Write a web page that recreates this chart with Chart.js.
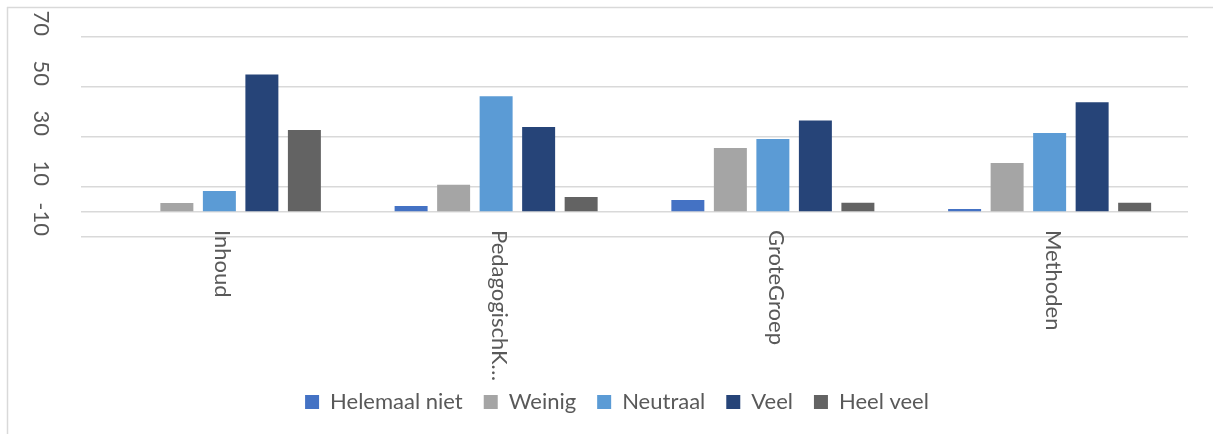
<!DOCTYPE html>
<html>
<head>
<meta charset="utf-8">
<script src="https://cdn.jsdelivr.net/npm/chart.js@4/dist/chart.umd.min.js"></script>
<style>
  html, body { margin: 0; padding: 0; background: #ffffff; }
  #wrap { width: 1213px; height: 434px; position: relative; }
</style>
</head>
<body>
<div id="wrap"><canvas id="c"></canvas></div>
<script>
// ---- Data ----
const categories = ['Inhoud', 'PedagogischK…', 'GroteGroep', 'Methoden'];
const seriesNames = ['Helemaal niet', 'Weinig', 'Neutraal', 'Veel', 'Heel veel'];
const helemaalNiet = [0, 2.4, 4.8, 1.2];
const weinig = [3.6, 10.9, 25.6, 19.6];
const neutraal = [8.4, 46.3, 29.2, 31.6];
const veel = [55, 34, 36.6, 43.9];
const heelVeel = [32.8, 6, 3.7, 3.7];
const yTickValues = [-10, 10, 30, 50, 70];
const yTickLabels = ['-10', '10', '30', '50', '70'];
const gridValues = [-10, 0, 10, 30, 50, 70];

const colors = ['#4472C4', '#A5A5A5', '#5B9BD5', '#264478', '#636363'];
const seriesData = [helemaalNiet, weinig, neutraal, veel, heelVeel];
const textColor = '#595959';
const gridColor = '#d9d9d9';
const FONT = 'Lato, "Open Sans", sans-serif';

const labelPlugin = {
  id: 'rotatedLabels',
  beforeDraw(chart) {
    const ctx = chart.ctx;
    ctx.save();
    ctx.fillStyle = '#ffffff';
    ctx.fillRect(0, 0, chart.width, chart.height);
    ctx.strokeStyle = gridColor;
    ctx.lineWidth = 1.5;
    ctx.beginPath();
    ctx.moveTo(7, 7.5); ctx.lineTo(chart.width, 7.5);
    ctx.moveTo(7.5, 7); ctx.lineTo(7.5, chart.height);
    ctx.stroke();
    ctx.restore();
  },
  afterDraw(chart) {
    const ctx = chart.ctx;
    const ys = chart.scales.y;
    const xs = chart.scales.x;
    ctx.save();
    ctx.fillStyle = textColor;
    ctx.font = '22px ' + FONT;
    // y tick labels, rotated clockwise, ending just above their gridline
    yTickValues.forEach((v, i) => {
      const py = ys.getPixelForValue(v);
      ctx.save();
      ctx.translate(41, py - 1);
      ctx.rotate(Math.PI / 2);
      ctx.textAlign = 'right';
      ctx.textBaseline = 'middle';
      ctx.fillText(yTickLabels[i], 0, 0);
      ctx.restore();
    });
    // category labels, rotated clockwise, starting below the axis
    categories.forEach((c, i) => {
      const px = xs.getPixelForValue(i);
      ctx.save();
      ctx.translate(px + 3, 230);
      ctx.rotate(Math.PI / 2);
      ctx.textAlign = 'left';
      ctx.textBaseline = 'middle';
      ctx.fillText(c, 0, 0);
      ctx.restore();
    });
    ctx.restore();
  }
};

new Chart(document.getElementById('c'), {
  type: 'bar',
  data: {
    labels: categories,
    datasets: seriesNames.map((name, i) => ({
      label: name,
      data: seriesData[i],
      backgroundColor: colors[i],
      borderWidth: 0,
      categoryPercentage: 0.768,
      barPercentage: 0.776
    }))
  },
  options: {
    responsive: true,
    maintainAspectRatio: false,
    animation: false,
    layout: { padding: { top: 37, right: 25, left: 46, bottom: 11 } },
    plugins: {
      legend: {
        position: 'bottom',
        labels: {
          color: textColor,
          font: { family: FONT, size: 22 },
          boxWidth: 14,
          boxHeight: 14,
          padding: 21
        }
      },
      tooltip: { enabled: false }
    },
    scales: {
      x: {
        grid: { display: false },
        border: { display: false },
        ticks: { display: false },
        afterFit(scale) { scale.height = 133; }
      },
      y: {
        min: -10,
        max: 70,
        afterBuildTicks(scale) { scale.ticks = gridValues.map(v => ({ value: v })); },
        grid: { color: gridColor, lineWidth: 1.5, drawTicks: false },
        border: { display: false },
        ticks: { display: false },
        afterFit(scale) { scale.width = 35; }
      }
    }
  },
  plugins: [labelPlugin]
});
</script>
</body>
</html>
